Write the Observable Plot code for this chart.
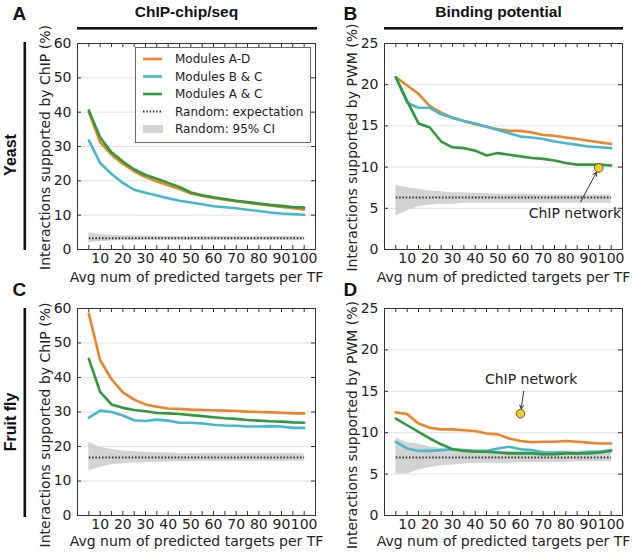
<!DOCTYPE html>
<html><head><meta charset="utf-8">
<script src="https://cdn.jsdelivr.net/npm/d3@7"></script>
<script src="https://cdn.jsdelivr.net/npm/@observablehq/plot@0.6"></script>
<style>
html,body{margin:0;padding:0;background:#fff;}
#root{position:relative;width:633px;height:554px;overflow:hidden;background:#fff;}
.panel{position:absolute;}
#overlay{position:absolute;left:0;top:0;pointer-events:none;}
</style></head><body>
<div id="root"></div>
<script>
// ---- categories / ticks ----
const xs = [5,10,15,20,25,30,35,40,45,50,55,60,65,70,75,80,85,90,95,100];
const xTickLabels = [10,20,30,40,50,60,70,80,90,100];
const yTicksChip = [0,10,20,30,40,50,60];
const yTicksPwm = [0,5,10,15,20,25];
const seriesNames = ["Modules A-D","Modules B & C","Modules A & C"];
const seriesColors = ["#ee8426","#43b8cf","#2f9a3c"];
const xLabel = "Avg num of predicted targets per TF";
const yLabelChip = "Interactions supported by ChIP (%)";
const yLabelPwm = "Interactions supported by PWM (%)";

// ---- A: Yeast, ChIP-chip/seq ----
const yeastChipAD = [40.0,31.2,27.6,24.9,22.8,21.1,19.8,18.7,17.6,16.3,15.6,15.0,14.5,14.0,13.6,13.2,12.8,12.4,12.0,11.6];
const yeastChipBC = [31.8,25.2,22.0,19.4,17.4,16.5,15.7,14.9,14.2,13.7,13.2,12.6,12.3,12.0,11.6,11.2,10.8,10.5,10.3,10.1];
const yeastChipAC = [40.5,32.6,28.3,25.6,23.3,21.7,20.6,19.4,18.2,16.6,15.8,15.2,14.7,14.2,13.8,13.4,13.0,12.7,12.4,12.2];
const yeastChipExp = [3.3,3.3,3.3,3.3,3.3,3.3,3.3,3.3,3.3,3.3,3.3,3.3,3.3,3.3,3.3,3.3,3.3,3.3,3.3,3.3];
const yeastChipLo = [2.0,2.3,2.5,2.6,2.6,2.7,2.7,2.7,2.7,2.7,2.7,2.7,2.7,2.7,2.7,2.7,2.7,2.7,2.7,2.7];
const yeastChipHi = [4.9,4.4,4.1,4.0,3.9,3.9,3.8,3.8,3.8,3.8,3.8,3.8,3.8,3.8,3.8,3.8,3.8,3.8,3.8,3.8];

// ---- B: Yeast, Binding potential ----
const yeastPwmAD = [20.9,19.9,18.9,17.4,16.6,16.0,15.6,15.2,14.9,14.6,14.4,14.4,14.2,13.9,13.8,13.6,13.4,13.2,13.0,12.8];
const yeastPwmBC = [20.9,17.8,17.2,17.2,16.4,16.0,15.6,15.3,14.9,14.5,14.1,13.7,13.6,13.4,13.1,12.9,12.7,12.5,12.4,12.3];
const yeastPwmAC = [20.9,18.0,15.3,14.8,13.1,12.4,12.3,12.0,11.4,11.7,11.5,11.3,11.1,11.0,10.8,10.5,10.3,10.3,10.3,10.2];
const yeastPwmExp = [6.3,6.3,6.3,6.3,6.3,6.3,6.3,6.3,6.3,6.3,6.3,6.3,6.3,6.3,6.3,6.3,6.3,6.3,6.3,6.3];
const yeastPwmLo = [4.1,4.7,5.2,5.4,5.5,5.5,5.6,5.6,5.6,5.6,5.6,5.6,5.6,5.6,5.6,5.6,5.6,5.6,5.6,5.6];
const yeastPwmHi = [7.8,7.5,7.3,7.1,7.0,6.9,6.9,6.8,6.8,6.7,6.7,6.7,6.7,6.6,6.6,6.6,6.6,6.6,6.6,6.6];
const yeastChipNetwork = [{x: 94.5, y: 9.9, labelX: 84, labelY: 4.4, fromX: 86.6, fromY: 5.8, text: "ChIP network"}];

// ---- C: Fruit fly, ChIP-chip/seq ----
const flyChipAD = [58.5,45.0,39.5,35.7,33.6,32.2,31.5,31.0,30.9,30.7,30.6,30.5,30.4,30.3,30.1,30.0,29.9,29.8,29.6,29.6];
const flyChipBC = [28.4,30.4,30.0,29.0,27.6,27.4,27.8,27.5,26.9,26.9,26.7,26.3,26.1,26.0,25.8,25.8,25.9,25.8,25.4,25.4];
const flyChipAC = [45.4,35.8,32.2,31.2,30.6,30.2,29.7,29.6,29.4,29.1,28.8,28.5,28.2,28.0,27.7,27.5,27.3,27.2,27.0,26.9];
const flyChipExp = [16.8,16.8,16.8,16.8,16.8,16.8,16.8,16.8,16.8,16.8,16.8,16.8,16.8,16.8,16.8,16.8,16.8,16.8,16.8,16.8];
const flyChipLo = [13.0,14.0,14.7,15.0,15.2,15.3,15.4,15.5,15.6,15.6,15.7,15.7,15.7,15.7,15.7,15.7,15.7,15.7,15.7,15.7];
const flyChipHi = [21.2,19.8,19.1,18.7,18.5,18.3,18.2,18.1,18.0,18.0,17.9,17.9,17.9,17.9,17.9,17.9,17.9,17.9,17.9,17.9];

// ---- D: Fruit fly, Binding potential ----
const flyPwmAD = [12.45,12.25,11.1,10.6,10.4,10.4,10.3,10.2,9.9,9.8,9.3,9.0,8.85,8.9,8.9,9.0,8.9,8.8,8.7,8.7];
const flyPwmBC = [8.9,8.1,7.8,7.8,7.9,8.0,7.9,7.8,7.8,8.1,8.3,8.0,7.9,7.6,7.6,7.6,7.5,7.7,7.7,7.9];
const flyPwmAC = [11.7,10.9,10.1,9.3,8.6,8.0,7.8,7.7,7.7,7.6,7.5,7.5,7.5,7.4,7.4,7.5,7.5,7.5,7.6,7.8];
const flyPwmExp = [7.0,7.0,7.0,7.0,7.0,7.0,7.0,7.0,7.0,7.0,7.0,7.0,7.0,7.0,7.0,7.0,7.0,7.0,7.0,7.0];
const flyPwmLo = [5.0,5.0,5.5,5.8,6.0,6.1,6.2,6.3,6.3,6.3,6.3,6.4,6.4,6.4,6.4,6.4,6.5,6.5,6.5,6.5];
const flyPwmHi = [9.4,8.8,8.6,8.3,8.1,7.9,7.8,7.8,7.8,7.8,7.8,7.8,7.8,7.8,7.8,7.8,7.8,7.8,7.8,7.8];
const flyChipNetwork = [{x: 60, y: 12.3, labelX: 64.7, labelY: 16.4, fromX: 61.4, fromY: 15.0, text: "ChIP network"}];

const FONT = "'DejaVu Sans', 'Bitstream Vera Sans', sans-serif";
const DOTS = "1.5,1.8";
const root = document.getElementById("root");

function makePanel(cfg) {
  const rows = [];
  cfg.series.forEach((vals, i) => vals.forEach((v, j) => rows.push({x: xs[j], v, series: seriesNames[i]})));
  const band = xs.map((x, j) => ({x, lo: cfg.lo[j], hi: cfg.hi[j], e: cfg.exp[j]}));
  const fw = cfg.width - cfg.mL - cfg.mR, fh = cfg.height - cfg.mT - cfg.mB;
  const marks = [
    Plot.ruleY(cfg.yTicks, {y: d => d, stroke: "#e2e2e2", strokeWidth: 1}),
    Plot.areaY(band, {x: "x", y1: "lo", y2: "hi", fill: "#d3d3d3"}),
    Plot.lineY(band, {x: "x", y: "e", stroke: "#333", strokeWidth: 2, strokeDasharray: DOTS, strokeLinecap: "butt"}),
    Plot.line(rows, {x: "x", y: "v", z: "series", stroke: "series", strokeWidth: 2.6}),
    Plot.frame({stroke: "#333", strokeWidth: 1}),
    Plot.tickX(xs, {x: d => d, insetTop: fh - 4, stroke: "#333"}),
    Plot.tickX(xs, {x: d => d, insetBottom: fh - 4, stroke: "#333"}),
    Plot.tickY(cfg.yTicks, {y: d => d, insetRight: fw - 4, stroke: "#333"}),
    Plot.tickY(cfg.yTicks, {y: d => d, insetLeft: fw - 4, stroke: "#333"}),
    Plot.axisX({ticks: xTickLabels, tickSize: 0, tickPadding: 4, fontSize: 14, label: null, tickFormat: d => String(d)}),
    Plot.axisY({ticks: cfg.yTicks, tickSize: 0, tickPadding: 6, fontSize: 14, label: null, tickFormat: d => String(d)}),
    Plot.text([xLabel], {frameAnchor: "bottom", dy: cfg.xLabelDy, lineAnchor: "bottom", textAnchor: "middle", fontSize: 14, text: d => d, fill: "#222"}),
    Plot.text([cfg.ylabel], {frameAnchor: "left", dx: -32, dy: cfg.yLabelDy, rotate: -90, textAnchor: "middle", lineAnchor: "middle", fontSize: 14, text: d => d, fill: "#222"})
  ];
  if (cfg.chip) {
    marks.push(
      Plot.arrow(cfg.chip, {x1: "fromX", y1: "fromY", x2: "x", y2: "y", insetEnd: 5, headLength: 6, stroke: "#333", strokeWidth: 1}),
      Plot.dot(cfg.chip, {x: "x", y: "y", r: 4.3, fill: "#f4cf1f", stroke: "#555", strokeWidth: 1}),
      Plot.text(cfg.chip, {x: "labelX", y: "labelY", text: "text", fontSize: 14, fill: "#222"})
    );
  }
  const svg = Plot.plot({
    width: cfg.width, height: cfg.height,
    marginLeft: cfg.mL, marginRight: cfg.mR, marginTop: cfg.mT, marginBottom: cfg.mB,
    x: {domain: [0, 105]},
    y: {domain: cfg.yDomain},
    color: {domain: seriesNames, range: seriesColors},
    style: {background: "transparent", overflow: "visible", fontFamily: FONT, fontSize: "14px", color: "#222"},
    marks
  });
  const div = document.createElement("div");
  div.className = "panel";
  div.style.left = cfg.left + "px";
  div.style.top = cfg.top + "px";
  div.appendChild(svg);
  root.appendChild(div);
}

const col1 = {left: 0, width: 330, mL: 77, mR: 15};
const col2 = {left: 330, width: 303, mL: 54, mR: 11};
const row1 = {top: 0, height: 295, mT: 43, mB: 46, xLabelDy: 32, yLabelDy: 1};
const row2 = {top: 295, height: 259, mT: 13, mB: 39, xLabelDy: 30.5, yLabelDy: 13};

makePanel({...col1, ...row1, yDomain: [0, 60], yTicks: yTicksChip, ylabel: yLabelChip,
  series: [yeastChipAD, yeastChipBC, yeastChipAC], exp: yeastChipExp, lo: yeastChipLo, hi: yeastChipHi});
makePanel({...col2, ...row1, yDomain: [0, 25], yTicks: yTicksPwm, ylabel: yLabelPwm,
  series: [yeastPwmAD, yeastPwmBC, yeastPwmAC], exp: yeastPwmExp, lo: yeastPwmLo, hi: yeastPwmHi, chip: yeastChipNetwork});
makePanel({...col1, ...row2, yDomain: [0, 60], yTicks: yTicksChip, ylabel: yLabelChip,
  series: [flyChipAD, flyChipBC, flyChipAC], exp: flyChipExp, lo: flyChipLo, hi: flyChipHi});
makePanel({...col2, ...row2, yDomain: [0, 25], yTicks: yTicksPwm, ylabel: yLabelPwm,
  series: [flyPwmAD, flyPwmBC, flyPwmAC], exp: flyPwmExp, lo: flyPwmLo, hi: flyPwmHi, chip: flyChipNetwork});

// ---- overlay: headers, row labels, panel letters, legend ----
const legendItems = ["Modules A-D", "Modules B & C", "Modules A & C", "Random: expectation", "Random: 95% CI"];
const ns = "http://www.w3.org/2000/svg";
const ov = document.createElementNS(ns, "svg");
ov.setAttribute("id", "overlay");
ov.setAttribute("width", 633);
ov.setAttribute("height", 554);
function el(tag, attrs, txt) {
  const e = document.createElementNS(ns, tag);
  for (const k in attrs) e.setAttribute(k, attrs[k]);
  if (txt != null) e.textContent = txt;
  ov.appendChild(e);
  return e;
}
const BOLD = "'Liberation Sans', Arial, Helvetica, sans-serif";
el("text", {x: 186.5, y: 17, "text-anchor": "middle", "font-family": BOLD, "font-weight": "bold", "font-size": 15.5, fill: "#111"}, "ChIP-chip/seq");
el("text", {x: 498.5, y: 17, "text-anchor": "middle", "font-family": BOLD, "font-weight": "bold", "font-size": 15.5, fill: "#111"}, "Binding potential");
el("rect", {x: 77, y: 27, width: 240, height: 2.6, fill: "#111"});
el("rect", {x: 384, y: 27, width: 239, height: 2.6, fill: "#111"});
el("rect", {x: 23.5, y: 42, width: 2.6, height: 208, fill: "#111"});
el("rect", {x: 23.5, y: 308, width: 2.6, height: 209, fill: "#111"});
el("text", {transform: "translate(15.5,155) rotate(-90)", "text-anchor": "middle", "font-family": BOLD, "font-weight": "bold", "font-size": 16, fill: "#111"}, "Yeast");
el("text", {transform: "translate(16,422) rotate(-90)", "text-anchor": "middle", "font-family": BOLD, "font-weight": "bold", "font-size": 16, fill: "#111"}, "Fruit fly");
[["A", 12.5, 19.5], ["B", 343.5, 19.5], ["C", 12.5, 295.5], ["D", 343.5, 295.5]].forEach(([t, x, y]) =>
  el("text", {x, y, "font-family": BOLD, "font-weight": "bold", "font-size": 19, fill: "#111"}, t));

// legend
el("rect", {x: 135.5, y: 47.5, width: 175, height: 95, fill: "#fff", stroke: "#444", "stroke-width": 0.8});
const ly = [59, 76.5, 94, 111.5, 129];
seriesColors.forEach((c, i) => el("line", {x1: 143, x2: 162, y1: ly[i], y2: ly[i], stroke: c, "stroke-width": 2.6}));
el("line", {x1: 143, x2: 162, y1: ly[3], y2: ly[3], stroke: "#333", "stroke-width": 2, "stroke-dasharray": DOTS});
el("rect", {x: 143, y: ly[4] - 4, width: 20, height: 8, fill: "#d3d3d3"});
legendItems.forEach((t, i) => el("text", {x: 175, y: ly[i], dy: "0.35em", "font-family": FONT, "font-size": 12, fill: "#222"}, t));
root.appendChild(ov);
</script>
</body></html>
